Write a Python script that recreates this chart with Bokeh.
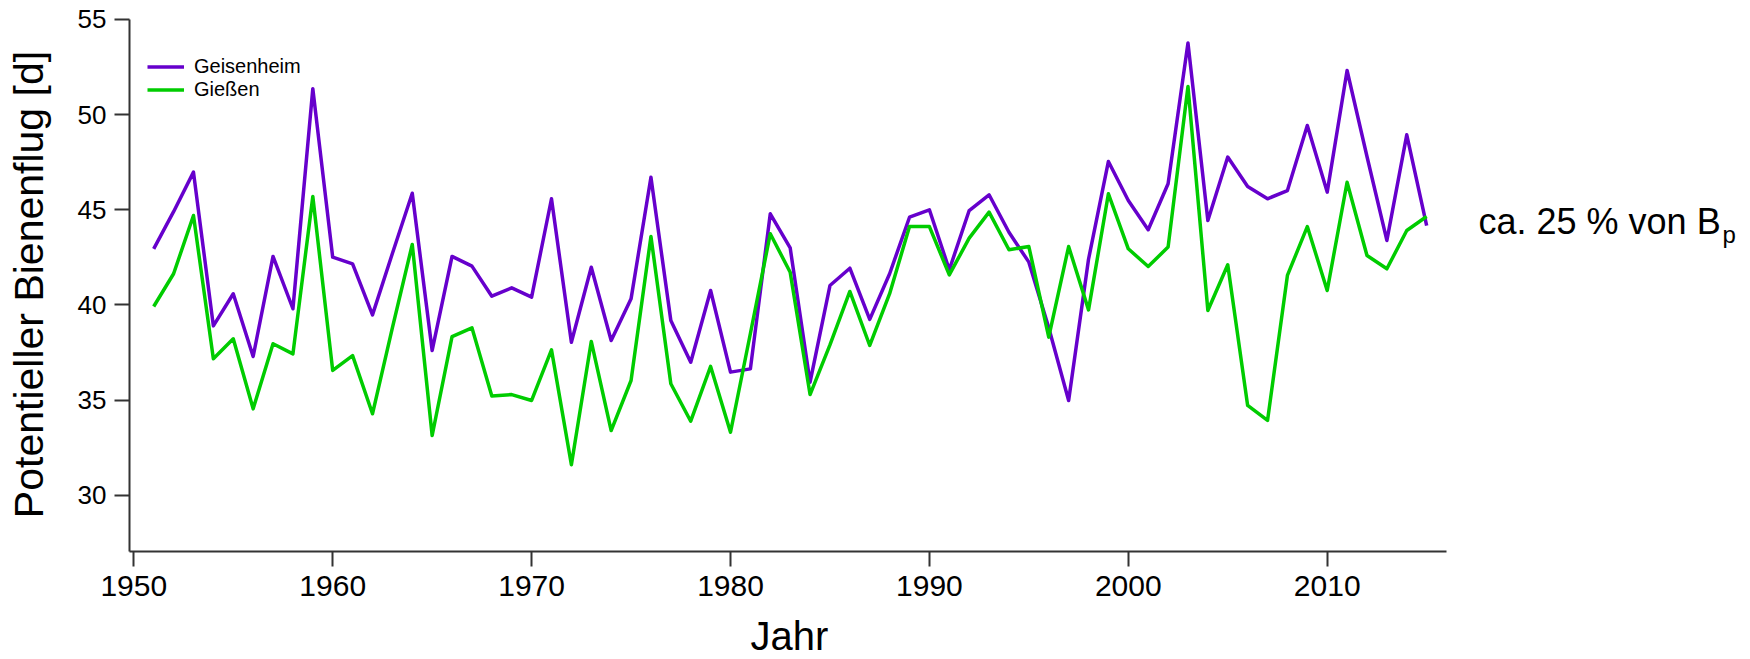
import math
from bokeh.plotting import figure
from bokeh.models import Range1d, FixedTicker, Legend, LegendItem, Label
from bokeh.embed import file_html
from bokeh.resources import INLINE

years = list(range(1951, 2016))
geisenheim = [42.95, 44.9, 46.98, 38.9, 40.59, 37.29, 42.55, 39.8, 51.36, 42.51,
              42.16, 39.48, 42.7, 45.87, 37.61, 42.55, 42.04, 40.46, 40.9, 40.41,
              45.58, 38.04, 41.98, 38.13, 40.32, 46.71, 39.18, 36.99, 40.76, 36.47,
              36.64, 44.79, 43.0, 35.94, 41.02, 41.93, 39.24, 41.64, 44.61, 45.0,
              41.85, 44.96, 45.79, 43.82, 42.25, 38.8, 34.98, 42.4, 47.54, 45.49,
              43.95, 46.37, 53.77, 44.44, 47.77, 46.22, 45.58, 46.01, 49.43, 45.93,
              52.32, 47.8, 43.39, 48.94, 44.17]
giessen = [39.92, 41.64, 44.7, 37.17, 38.22, 34.54, 37.96, 37.43, 45.7, 36.56,
           37.34, 34.28, 38.8, 43.18, 33.14, 38.34, 38.8, 35.21, 35.29, 34.98,
           37.64, 31.6, 38.08, 33.4, 36.03, 43.6, 35.86, 33.89, 36.77, 33.31,
           38.5, 43.74, 41.72, 35.29, 37.9, 40.71, 37.87, 40.59, 44.12, 44.12,
           41.58, 43.51, 44.88, 42.9, 43.07, 38.31, 43.07, 39.74, 45.84, 42.95,
           42.02, 43.04, 51.48, 39.71, 42.11, 34.72, 33.93, 41.55, 44.12, 40.76,
           46.45, 42.6, 41.9, 43.91, 44.65]
x_ticks = [1950, 1960, 1970, 1980, 1990, 2000, 2010]
y_ticks = [30, 35, 40, 45, 50, 55]
series_names = ["Geisenheim", "Gießen"]
series_colors = ["#6600CC", "#00CC00"]
x_label = "Jahr"
y_label = "Potentieller Bienenflug [d]"
note_main = "ca. 25 % von B"
note_sub = "p"

FONT = "Liberation Sans"
AX = "#333333"
W, H = 1750, 659

# axis extents (data units)
X_AX = (1949.78, 2016.0)
Y_AX = (27.04, 55.0)

p = figure(width=W, height=H, output_backend="svg", toolbar_location=None,
           x_range=Range1d(1943.298, 2031.282), y_range=Range1d(21.369, 55.998),
           min_border_left=0, min_border_right=0, min_border_top=0,
           min_border_bottom=0)
if p.title is not None:
    p.title.visible = False
p.outline_line_color = None
p.grid.visible = False
p.background_fill_color = "white"
p.border_fill_color = "white"

r1 = p.line(years, geisenheim, line_color=series_colors[0], line_width=3.5,
            line_join="round")
r2 = p.line(years, giessen, line_color=series_colors[1], line_width=3.5,
            line_join="round")

# axes drawn at fixed positions inside the canvas
xa = p.xaxis[0]
xa.fixed_location = Y_AX[0]
xa.bounds = X_AX
xa.ticker = FixedTicker(ticks=x_ticks)
xa.minor_tick_line_color = None
xa.major_tick_in = 0
xa.major_tick_out = 15
xa.axis_line_color = AX
xa.axis_line_width = 2
xa.major_tick_line_color = AX
xa.major_tick_line_width = 2
xa.major_label_text_font = FONT
xa.major_label_text_font_size = "30px"
xa.major_label_text_color = "black"
xa.major_label_standoff = 9

ya = p.yaxis[0]
ya.fixed_location = X_AX[0]
ya.bounds = Y_AX
ya.ticker = FixedTicker(ticks=y_ticks)
ya.minor_tick_line_color = None
ya.major_tick_in = 0
ya.major_tick_out = 15
ya.axis_line_color = AX
ya.axis_line_width = 2
ya.major_tick_line_color = AX
ya.major_tick_line_width = 2
ya.major_label_text_font = FONT
ya.major_label_text_font_size = "26px"
ya.major_label_text_color = "black"
ya.major_label_standoff = 8

# axis titles
p.add_layout(Label(x=789, y=24, x_units="screen", y_units="screen", text=x_label,
                   text_font=FONT, text_font_size="40px", text_color="black",
                   text_align="center", text_baseline="alphabetic"))
p.add_layout(Label(x=28, y=375, x_units="screen", y_units="screen", text=y_label,
                   angle=math.pi / 2,
                   text_font=FONT, text_font_size="41px", text_color="black",
                   text_align="center", text_baseline="alphabetic"))

# right annotation
p.add_layout(Label(x=1478, y=438, x_units="screen", y_units="screen", text=note_main,
                   text_font=FONT, text_font_size="36px", text_color="black",
                   text_align="left", text_baseline="alphabetic"))
p.add_layout(Label(x=1722, y=425, x_units="screen", y_units="screen", text=note_sub,
                   text_font=FONT, text_font_size="24px", text_color="black",
                   text_align="left", text_baseline="alphabetic"))

legend = Legend(items=[LegendItem(label=series_names[0], renderers=[r1]),
                       LegendItem(label=series_names[1], renderers=[r2])],
                location=(147, 558), margin=0, padding=0, spacing=0,
                glyph_width=37, glyph_height=23, label_height=23, label_standoff=10,
                label_text_font=FONT, label_text_font_size="20px",
                label_text_color="black",
                border_line_color=None, background_fill_alpha=0)
p.add_layout(legend)

open("out.html", "w").write(file_html(p, INLINE))
